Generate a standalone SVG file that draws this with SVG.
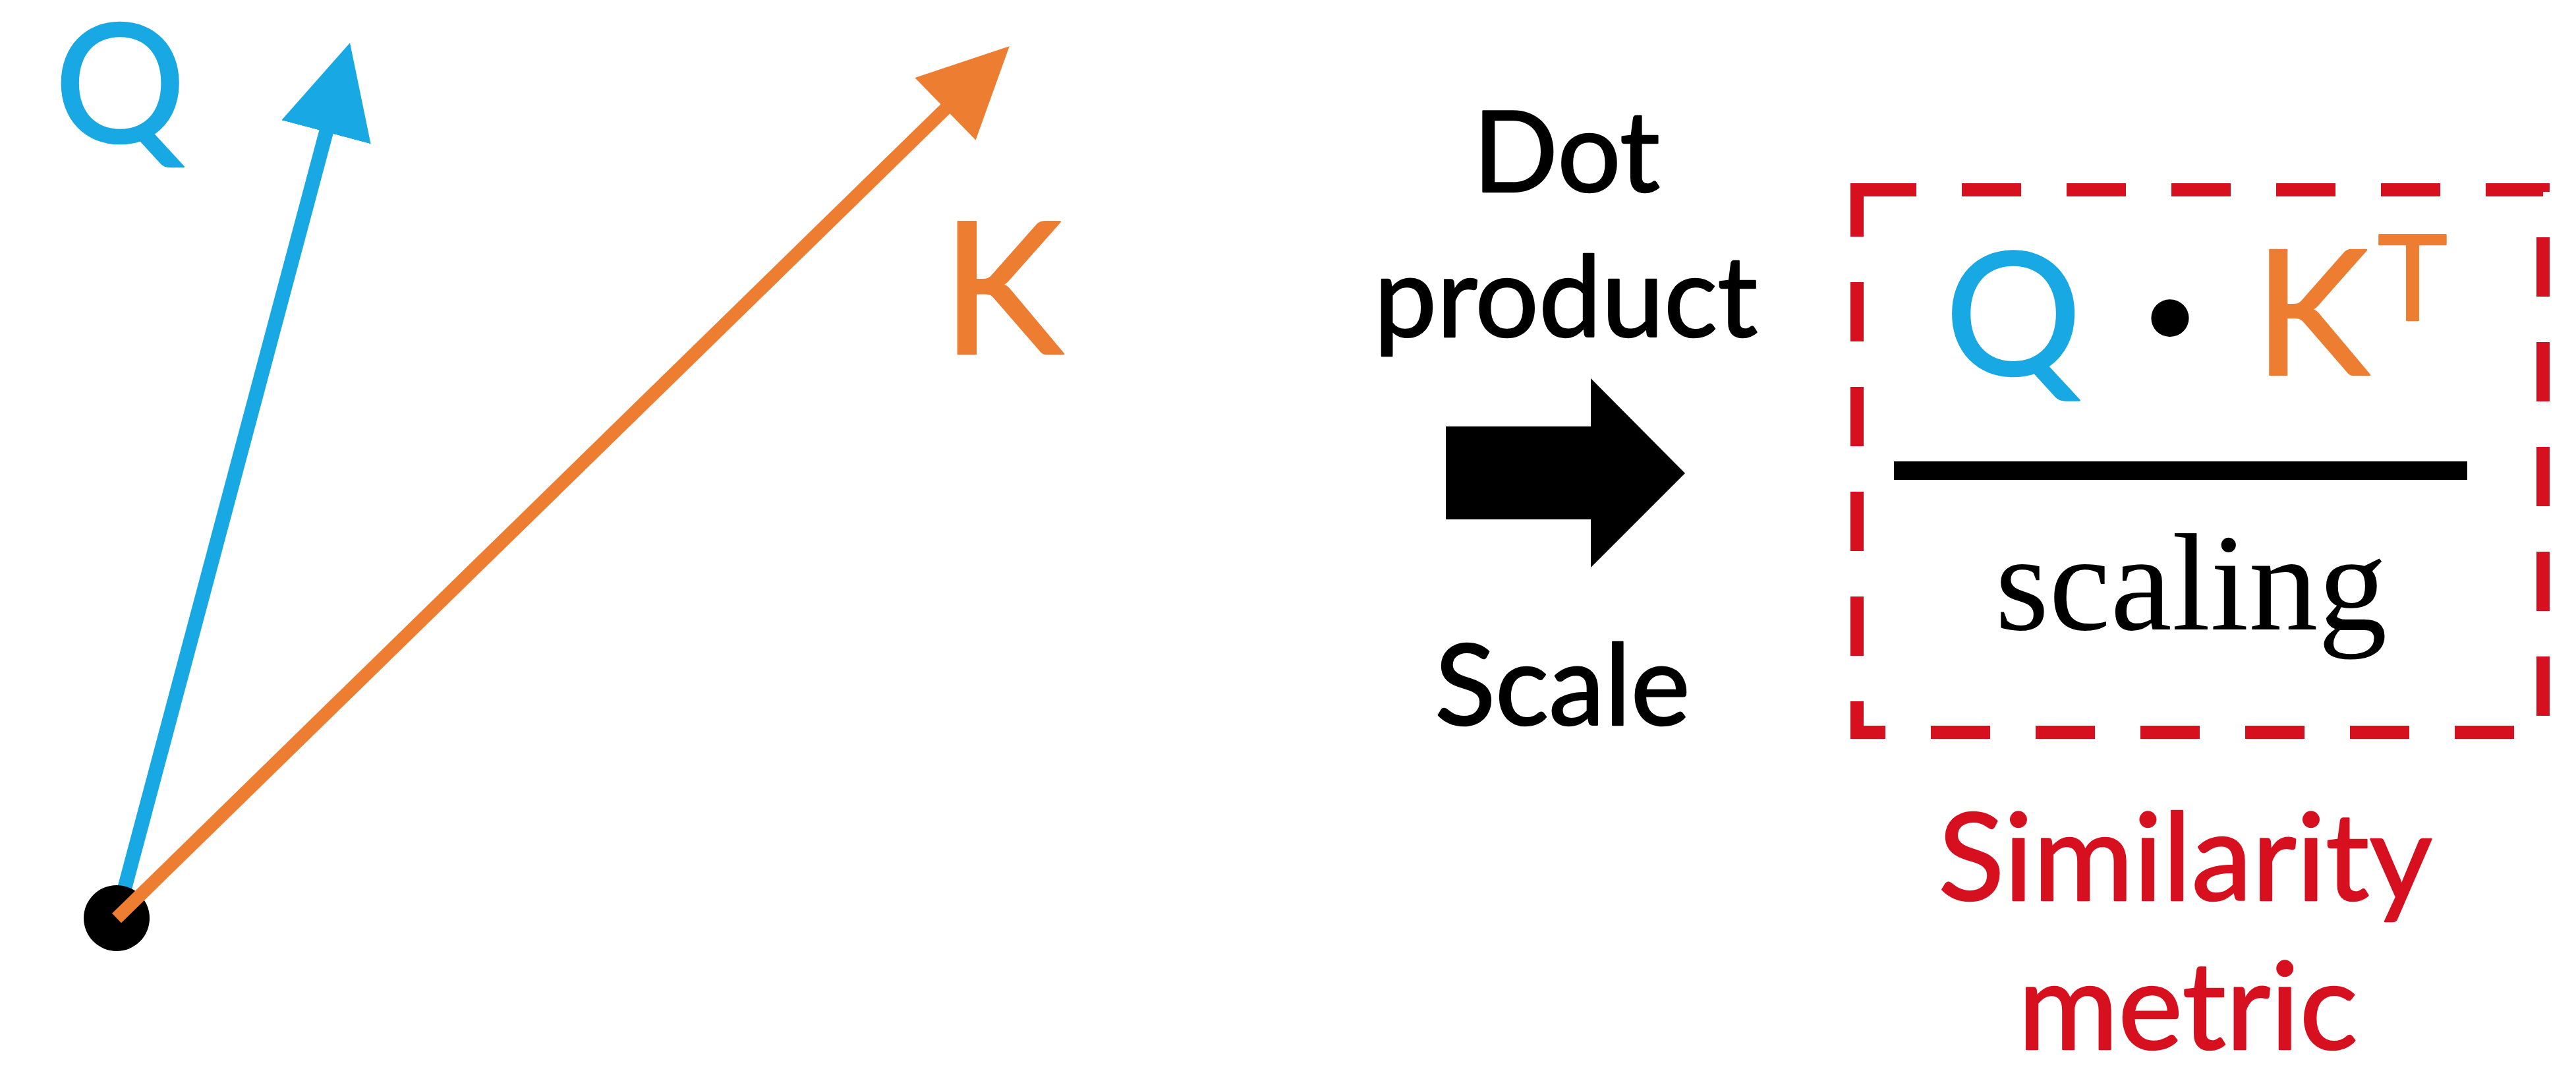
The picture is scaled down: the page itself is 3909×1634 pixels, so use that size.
<svg xmlns="http://www.w3.org/2000/svg" width="3909" height="1634" viewBox="0 0 3909 1634">
  <style>
    .sans { font-family: Lato, "Open Sans", "Liberation Sans", sans-serif; stroke-width: 2.5; stroke-linejoin: round; paint-order: stroke; }
    .serif { font-family: "Liberation Serif", "DejaVu Serif", serif; }
    .blue { fill: #18A8E3; stroke: #18A8E3; }
    .orange { fill: #ED7D31; stroke: #ED7D31; }
    .red { fill: #D7101F; stroke: #D7101F; }
    .black { fill: #000000; }
    .sans.black { stroke: #000000; }
  </style>
  <defs>
    <marker id="headBlue" viewBox="0 0 140 140" markerUnits="userSpaceOnUse" markerWidth="140" markerHeight="140" refX="30" refY="70" orient="auto">
      <path d="M0,0 L140,70 L0,140 z" fill="#18A8E3"/>
    </marker>
    <marker id="headOrange" viewBox="0 0 140 140" markerUnits="userSpaceOnUse" markerWidth="140" markerHeight="136" refX="30" refY="70" orient="auto">
      <path d="M0,2 L140,70 L0,138 z" fill="#ED7D31"/>
    </marker>
  </defs>
  <rect width="3909" height="1634" fill="#ffffff"/>

  <g id="connectors">
    <line id="vecQ" x1="177" y1="1393" x2="502.7" y2="171.3" stroke="#18A8E3" stroke-width="22" marker-end="url(#headBlue)"/>
    <g id="origin">
      <circle cx="177" cy="1393" r="50" fill="#000000"/>
    </g>
    <line id="vecK" x1="177" y1="1393" x2="1455.3" y2="144.8" stroke="#ED7D31" stroke-width="20" marker-end="url(#headOrange)"/>
    <polygon id="bigArrow" points="2194,647 2414,647 2414,574 2557,718 2414,861 2414,788 2194,788" fill="#000000"/>
  </g>

  <g id="labelQ">
    <text class="sans blue" x="182" y="216" font-size="250" text-anchor="middle">Q</text>
  </g>
  <g id="labelK">
    <text class="sans orange" x="1521" y="537" font-size="280" text-anchor="middle">K</text>
  </g>

  <g id="opLabel">
    <text class="sans black" x="2377" y="291" font-size="170" text-anchor="middle">Dot</text>
    <text class="sans black" x="2376" y="511" font-size="170" text-anchor="middle">product</text>
    <text class="sans black" x="2371" y="1100" font-size="170" text-anchor="middle">Scale</text>
  </g>

  <g id="similarityBox">
    <rect x="2818" y="288" width="1041" height="823" fill="none" stroke="#D7101F" stroke-width="20" stroke-dasharray="90 69"/>
    <text class="sans blue" x="3055" y="569" font-size="260" text-anchor="middle">Q</text>
    <text class="sans black" x="3293" y="569" font-size="290" font-weight="bold" text-anchor="middle">·</text>
    <text class="sans orange" x="3508" y="569" font-size="265" text-anchor="middle">K</text>
    <text class="sans orange" x="3661" y="486" font-size="180" text-anchor="middle">T</text>
    <line x1="2874" y1="714" x2="3744" y2="714" stroke="#000000" stroke-width="28"/>
    <text class="serif black" x="3325" y="955" font-size="210" text-anchor="middle">scaling</text>
  </g>

  <g id="caption">
    <text class="sans red" x="3316" y="1366" font-size="185" text-anchor="middle">Similarity</text>
    <text class="sans red" x="3320" y="1592" font-size="185" text-anchor="middle">metric</text>
  </g>
</svg>
